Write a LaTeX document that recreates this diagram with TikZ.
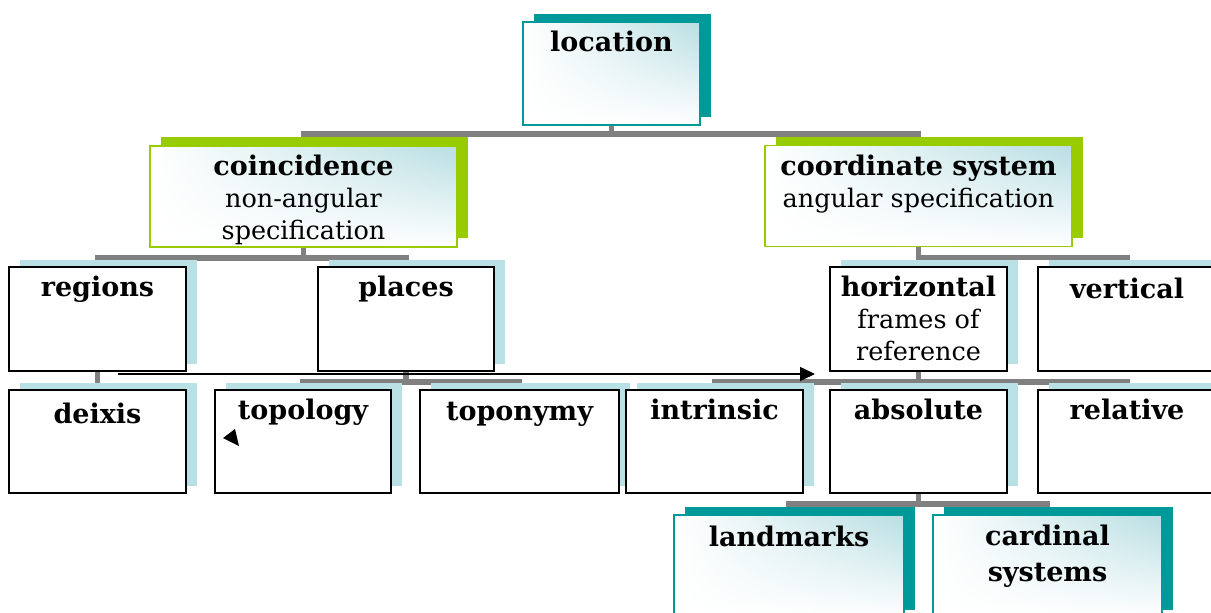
\documentclass[tikz,border=0pt]{standalone}
\usepackage{fontspec}
\setmainfont{DejaVu Serif}
\usetikzlibrary{shadows,shadings,arrows.meta,backgrounds}

\definecolor{tealdark}{RGB}{0,153,153}
\definecolor{limegreen}{RGB}{153,204,0}
\definecolor{paleblue}{RGB}{185,224,228}
\definecolor{glow}{RGB}{184,222,226}
\definecolor{connector}{RGB}{128,128,128}

% heading line and plain description line inside a box
\newcommand\lbltitle[1]{{\fontsize{27}{32}\selectfont\bfseries #1}}
\newcommand\lblbody[1]{{\fontsize{25.5}{32}\selectfont\mdseries #1}}

\begin{document}
\begin{tikzpicture}[x=1pt,y=-1pt,
  basebox/.style={rectangle, inner sep=0pt, minimum width=177pt, minimum height=103pt},
  glowfill/.style={upper left=white, upper right=glow, lower left=white, lower right=white},
  tealbox/.style={basebox, glowfill, draw=tealdark, line width=1.6pt,
    general shadow={fill=tealdark, shadow xshift=11pt, shadow yshift=8pt}},
  limebox/.style={basebox, glowfill, draw=limegreen, line width=1.6pt,
    minimum width=307pt, minimum height=101pt,
    general shadow={fill=limegreen, shadow xshift=11pt, shadow yshift=9pt}},
  plainbox/.style={basebox, fill=white, draw=black, line width=1.6pt,
    general shadow={fill=paleblue, shadow xshift=11pt, shadow yshift=7pt}},
  lbl/.style={anchor=base, inner sep=0pt, align=center, font=\fontsize{27}{32}\selectfont},
  tree/.style={draw=connector, line width=5.5pt},
  pointer/.style={draw=black, line width=1.5pt, -{Triangle[length=15pt,width=14pt]}}
]
\useasboundingbox (0,0) rectangle (1211,613);

% level 1
\node[tealbox] (loc) at (611.5,73.5) {};
% level 2
\node[limebox] (coin) at (303.5,196.5) {};
\node[limebox] (coord) at (918.5,196) {};
% level 3
\node[plainbox, minimum height=104pt] (regions) at (97.5,319) {};
\node[plainbox, minimum width=176pt, minimum height=104pt] (places) at (406,319) {};
\node[plainbox, minimum height=104pt] (horiz) at (918.5,319) {};
\node[plainbox, minimum width=178pt, minimum height=104pt] (vert) at (1127,319) {};
% level 4
\node[plainbox] (deixis) at (97.5,441.5) {};
\node[plainbox, minimum width=176pt] (topology) at (303,441.5) {};
\node[plainbox, minimum width=199pt] (toponymy) at (519.5,441.5) {};
\node[plainbox] (intrinsic) at (714.5,441.5) {};
\node[plainbox] (absolute) at (918.5,441.5) {};
\node[plainbox, minimum width=178pt] (relative) at (1127,441.5) {};
% level 5
\node[tealbox, minimum width=230pt] (landmarks) at (789,566.5) {};
\node[tealbox, minimum width=229pt] (cardinal) at (1047.5,566.5) {};

% labels (the base anchor of a multi-line label sits on its last line)
\node[lbl] (t-loc) at ([yshift=-30pt]loc.north) {\lbltitle{location}};
\node[lbl] (t-coin) at ([yshift=-94pt]coin.north) {\lbltitle{coincidence}\\\lblbody{non-angular}\\\lblbody{specification}};
\node[lbl] (t-coord) at ([yshift=-63pt]coord.north) {\lbltitle{coordinate system}\\\lblbody{angular specification}};
\node[lbl] (t-regions) at ([yshift=-30pt]regions.north) {\lbltitle{regions}};
\node[lbl] (t-places) at ([yshift=-30pt]places.north) {\lbltitle{places}};
\node[lbl] (t-horiz) at ([yshift=-94pt]horiz.north) {\lbltitle{horizontal}\\\lblbody{frames of}\\\lblbody{reference}};
\node[lbl] (t-vert) at ([yshift=-32pt]vert.north) {\lbltitle{vertical}};
\node[lbl] (t-deixis) at ([yshift=-34pt]deixis.north) {\lbltitle{deixis}};
\node[lbl] (t-topology) at ([yshift=-30pt]topology.north) {\lbltitle{topology}};
\node[lbl] (t-toponymy) at ([yshift=-31pt]toponymy.north) {\lbltitle{toponymy}};
\node[lbl] (t-intrinsic) at ([yshift=-30pt]intrinsic.north) {\lbltitle{intrinsic}};
\node[lbl] (t-absolute) at ([yshift=-30pt]absolute.north) {\lbltitle{absolute}};
\node[lbl] (t-relative) at ([yshift=-30pt]relative.north) {\lbltitle{relative}};
\node[lbl] (t-landmarks) at ([yshift=-32pt]landmarks.north) {\lbltitle{landmarks}};
\node[lbl, font=\fontsize{27}{36}\selectfont] (t-cardinal) at ([yshift=-67pt]cardinal.north) {\lbltitle{cardinal}\\\lbltitle{systems}};

% tree connectors behind the boxes
\begin{scope}[on background layer]
  \draw[tree] (loc.south) -- ++(0,8) -| (coin.north);
  \draw[tree] (loc.south) -- ++(0,8) -| (coord.north);
  \draw[tree] (coin.south) -- ++(0,10) -| (regions.north);
  \draw[tree] (coin.south) -- ++(0,10) -| (places.north);
  \draw[tree] (coord.south) -- ++(0,10) -| (horiz.north);
  \draw[tree] (coord.south) -- ++(0,10) -| (vert.north);
  \draw[tree] (regions.south) -- (deixis.north);
  \draw[tree] (places.south) -- ++(0,10) -| (topology.north);
  \draw[tree] (places.south) -- ++(0,10) -| (toponymy.north);
  \draw[tree] (horiz.south) -- ++(0,10) -| (intrinsic.north);
  \draw[tree] (horiz.south) -- ++(0,10) -| (absolute.north);
  \draw[tree] (horiz.south) -- ++(0,10) -| (relative.north);
  \draw[tree] (absolute.south) -- ++(0,10) -| (landmarks.north);
  \draw[tree] (absolute.south) -- ++(0,10) -| (cardinal.north);
\end{scope}

% free-standing pointer across the third row
\coordinate (ptr-start) at (118,374);
\coordinate (ptr-end) at (815,374);
\draw[pointer] (ptr-start) -- (ptr-end);

% small arrowhead inside the topology box
\fill[black] (223,438) -- (235,429) -- (239,446) -- cycle;
\end{tikzpicture}
\end{document}
